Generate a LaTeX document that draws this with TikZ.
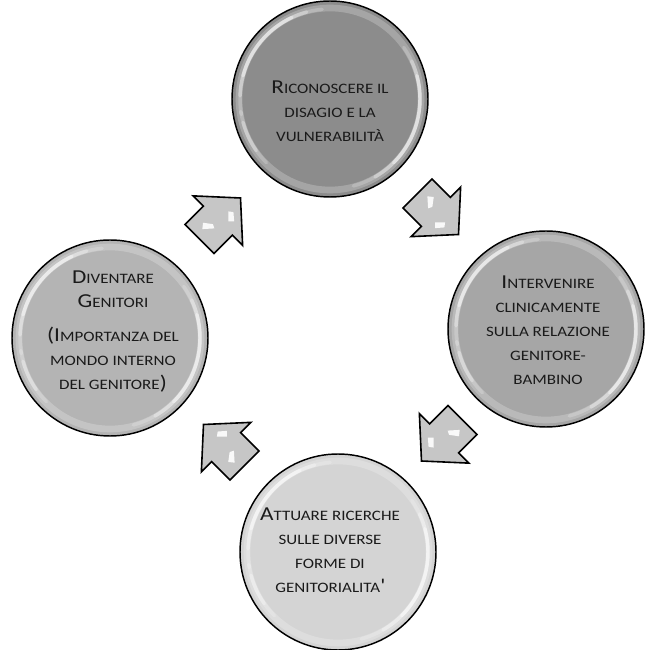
\documentclass[tikz,border=0pt]{standalone}
\usepackage{fontspec}
\setmainfont{Carlito}[FakeStretch=1.18]
\usetikzlibrary{calc}

\definecolor{discA}{HTML}{8C8C8C}
\definecolor{discB}{HTML}{A6A6A6}
\definecolor{discC}{HTML}{D4D4D4}
\definecolor{discD}{HTML}{B4B4B4}
\definecolor{arrowfill}{HTML}{C6C6C6}
\definecolor{inktext}{HTML}{1A1A1A}

% larger capital that opens a small-caps phrase
\newcommand\initial[1]{{\fontsize{14.8pt}{18pt}\selectfont #1}}

% bevelled, glossy rim inside a disc
\newcommand\glossrim[1]{%
  \draw[white, opacity=.22, line width=5pt] (#1) circle[radius=91];
  \foreach \a/\b/\o in {115/165/.4, 105/178/.3, 95/190/.2,
                        -45/15/.4, -60/25/.3, -75/35/.2,
                        195/215/.3, 188/225/.2}{
    \draw[white, opacity=\o, line width=2.6pt, line cap=round]
      ($(#1)+(\a:90)$) arc[start angle=\a, end angle=\b, radius=90];
  }
}

\begin{document}
\begin{tikzpicture}[x=0.75pt, y=0.75pt,
  disc/.style={circle, draw=black, line width=1.1pt, minimum size=147pt, inner sep=0pt},
  caption/.style={align=center, font=\fontsize{10.8pt}{18pt}\selectfont, text=inktext, inner sep=0pt},
  blockarrow/.pic={
    \path[draw=black, line width=1.2pt, fill=arrowfill, line join=miter]
      (-29,-20.5) -- (-3,-20.5) -- (-3,-35) -- (29,0) -- (-3,35) -- (-3,20.5) -- (-29,20.5) -- cycle;
    \fill[white, opacity=.9] (-20,5) -- (-15,9) -- (-9,1) -- (-11,-3) -- cycle;
    \fill[white, opacity=.9] (4,-8) -- (8,-12) -- (14,-5) -- (11,-1) -- cycle;
  }
]
\useasboundingbox (0,0) rectangle (646,650);

% the four stages
\node[disc, fill=discA] (top)    at (330,551) {};
\node[disc, fill=discB] (right)  at (546,321) {};
\node[disc, fill=discC] (bottom) at (338,98)  {};
\node[disc, fill=discD] (left)   at (110,312) {};

\glossrim{top}
\glossrim{right}
\glossrim{bottom}
\glossrim{left}

\node[caption] (topText) at (330,538.5)
  {\initial{R}ICONOSCERE IL\\DISAGIO E LA\\VULNERABILITÀ};
\node[caption] (rightText) at (548,320)
  {\initial{I}NTERVENIRE\\CLINICAMENTE\\SULLA RELAZIONE\\GENITORE-\\BAMBINO};
\node[caption] (bottomText) at (330,100)
  {\initial{A}TTUARE RICERCHE\\SULLE DIVERSE\\FORME DI\\GENITORIALITA\initial{\textquotesingle}};
\node[caption] (leftText) at (113,318.5)
  {\initial{D}IVENTARE\\\initial{G}ENITORI\\[8pt]\initial{(I}MPORTANZA DEL\\MONDO INTERNO\\DEL GENITORE\initial{)}};

% cycle arrows between consecutive stages
\pic[rotate=-45]  (toRight)  at ($(top)!0.5!(right)$)    {blockarrow};
\pic[rotate=-135] (toBottom) at ($(right)!0.5!(bottom)$) {blockarrow};
\pic[rotate=135]  (toLeft)   at ($(bottom)!0.5!(left)$)  {blockarrow};
\pic[rotate=45]   (toTop)    at ($(left)!0.5!(top)$)     {blockarrow};
\end{tikzpicture}
\end{document}
